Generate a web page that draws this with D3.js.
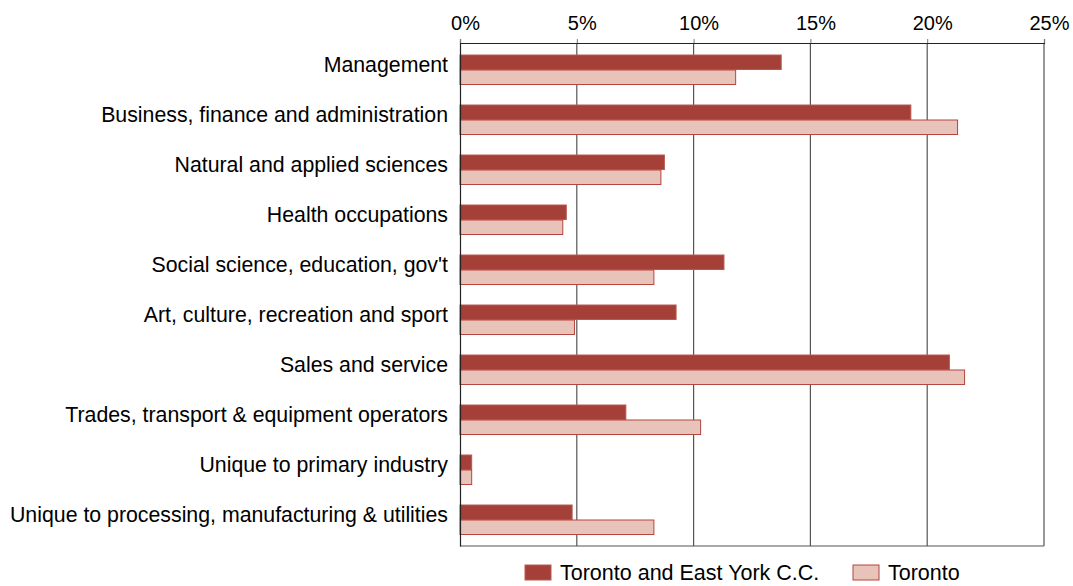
<!DOCTYPE html>
<html>
<head>
<meta charset="utf-8">
<script src="https://cdn.jsdelivr.net/npm/d3@7"></script>
<style>
  body { margin: 0; background: #fff; }
  svg { display: block; font-family: "Liberation Sans", Arial, sans-serif; }
</style>
</head>
<body>
<svg id="chart" width="1073" height="586"></svg>
<script>
var categories = [
  "Management",
  "Business, finance and administration",
  "Natural and applied sciences",
  "Health occupations",
  "Social science, education, gov't",
  "Art, culture, recreation and sport",
  "Sales and service",
  "Trades, transport & equipment operators",
  "Unique to primary industry",
  "Unique to processing, manufacturing & utilities"
];
var seriesNames = ["Toronto and East York C.C.", "Toronto"];
var eastYork = [13.75, 19.3, 8.75, 4.55, 11.3, 9.25, 20.95, 7.1, 0.5, 4.8];
var toronto  = [11.8, 21.3, 8.6, 4.4, 8.3, 4.9, 21.6, 10.3, 0.5, 8.3];
var ticks = [0, 5, 10, 15, 20, 25];

var width = 1073, height = 586;
var margin = {top: 43, right: 29, bottom: 40, left: 460};
var fills = ["#a44037", "#e8c3b9"];
var strokes = ["#b85a52", "#b5453e"];

var svg = d3.select("#chart");

var x = d3.scaleLinear()
  .domain([0, 25])
  .range([margin.left, width - margin.right]);

var y = d3.scaleBand()
  .domain(categories)
  .range([margin.top, height - margin.bottom])
  .paddingInner(0.4)
  .paddingOuter(0.23);

var ySub = d3.scaleBand()
  .domain([0, 1])
  .range([0, y.bandwidth()]);

// gridlines
svg.append("g")
  .selectAll("line")
  .data(ticks.slice(1))
  .enter().append("line")
    .attr("x1", function(d) { return x(d); })
    .attr("x2", function(d) { return x(d); })
    .attr("y1", margin.top)
    .attr("y2", height - margin.bottom)
    .style("stroke", "#555")
    .style("stroke-width", 1.2);

// bars
var rows = categories.map(function(c, i) {
  return {cat: c, vals: [eastYork[i], toronto[i]]};
});

var group = svg.append("g")
  .selectAll("g")
  .data(rows)
  .enter().append("g")
    .attr("transform", function(d) { return "translate(0," + y(d.cat) + ")"; });

group.selectAll("rect")
  .data(function(d) { return d.vals.map(function(v, k) { return {v: v, k: k}; }); })
  .enter().append("rect")
    .attr("x", x(0))
    .attr("y", function(d) { return ySub(d.k) + 0.5; })
    .attr("width", function(d) { return x(d.v) - x(0); })
    .attr("height", ySub.bandwidth() - 0.5)
    .style("fill", function(d) { return fills[d.k]; })
    .style("stroke", function(d) { return strokes[d.k]; })
    .style("stroke-width", 1);

// top axis
var xAxis = d3.axisTop(x)
  .tickValues(ticks)
  .tickFormat(function(d) { return d + "%"; })
  .tickSize(4)
  .tickPadding(9);

var ax = svg.append("g")
  .attr("transform", "translate(0," + margin.top + ")")
  .call(xAxis);
ax.select(".domain").style("stroke", "#222").style("stroke-width", 1.2);
ax.selectAll(".tick line").style("stroke", "#777");
ax.selectAll("text")
  .attr("dx", 5)
  .style("font-size", "20px")
  .style("fill", "#000");

// bottom frame line
svg.append("line")
  .attr("x1", x(0)).attr("x2", x(25))
  .attr("y1", height - margin.bottom).attr("y2", height - margin.bottom)
  .style("stroke", "#555").style("stroke-width", 1.2);

// left axis
var yAxis = d3.axisLeft(y).tickSize(0).tickPadding(12);
var ay = svg.append("g")
  .attr("transform", "translate(" + margin.left + ",0)")
  .call(yAxis);
ay.select(".domain").style("stroke", "#222").style("stroke-width", 1.2);
ay.selectAll("text")
  .attr("dy", "0.12em")
  .style("font-size", "21.3px")
  .style("fill", "#000");

// legend
var legendX = [525, 853];
var legend = svg.append("g")
  .selectAll("g")
  .data(seriesNames)
  .enter().append("g")
    .attr("transform", function(d, i) { return "translate(" + legendX[i] + ",565)"; });

legend.append("rect")
  .attr("width", 26)
  .attr("height", 15)
  .style("fill", function(d, i) { return fills[i]; })
  .style("stroke", function(d, i) { return strokes[i]; });

legend.append("text")
  .attr("x", 35)
  .attr("y", 15)
  .style("font-size", "21.5px")
  .text(function(d) { return d; });
</script>
</body>
</html>
